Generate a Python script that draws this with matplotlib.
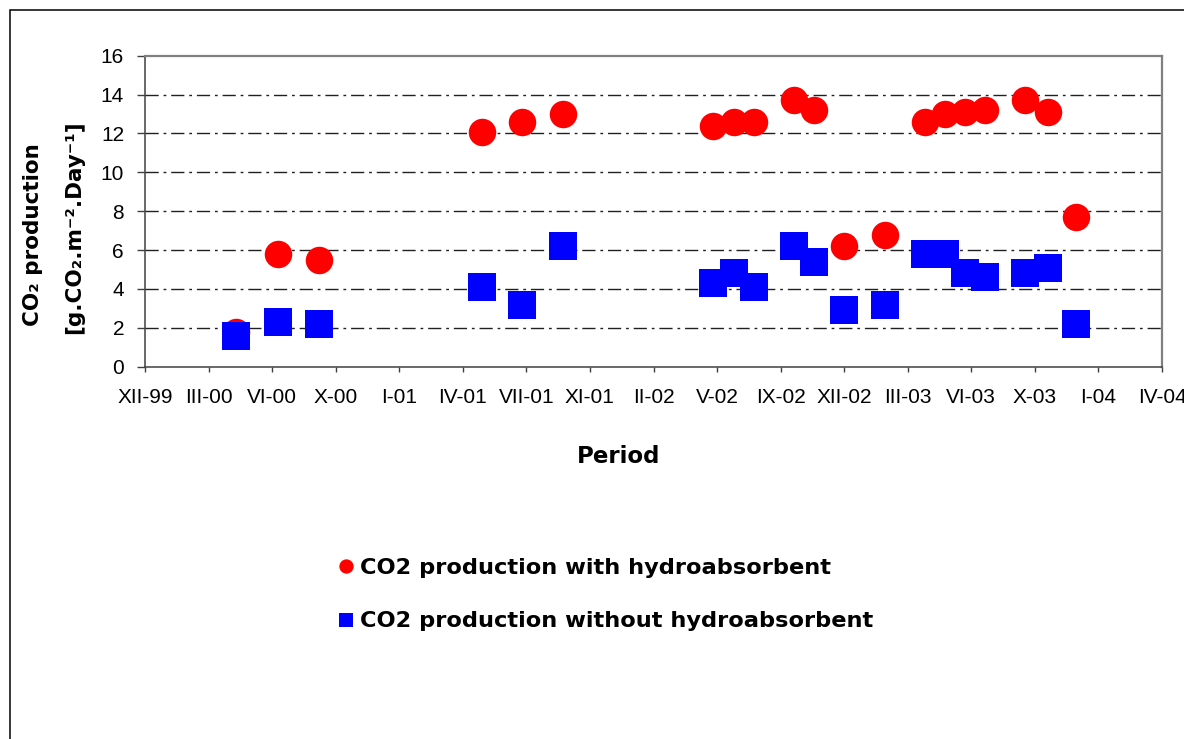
import matplotlib
matplotlib.use("Agg")
import matplotlib.pyplot as plt
from matplotlib.lines import Line2D
from matplotlib.patches import Rectangle
import pandas as pd
import numpy as np

# ---- data ----
dates = ["2000-04-27", "2000-07-03", "2000-09-05", "2001-05-19", "2001-07-21",
         "2001-09-23", "2002-05-18", "2002-06-19", "2002-07-21", "2002-09-22",
         "2002-10-24", "2002-12-10", "2003-02-12", "2003-04-16", "2003-05-18",
         "2003-06-18", "2003-07-20", "2003-09-21", "2003-10-26", "2003-12-10"]
with_hydro = [1.8, 5.8, 5.5, 12.1, 12.6, 13.0, 12.4, 12.6, 12.6, 13.7,
              13.2, 6.2, 6.8, 12.6, 13.0, 13.1, 13.2, 13.7, 13.1, 7.7]
without_hydro = [1.6, 2.3, 2.2, 4.1, 3.2, 6.2, 4.3, 4.8, 4.1, 6.2,
                 5.4, 2.9, 3.2, 5.8, 5.8, 4.8, 4.6, 4.8, 5.1, 2.2]
tick_labels = ["XII-99", "III-00", "VI-00", "X-00", "I-01", "IV-01", "VII-01",
               "XI-01", "II-02", "V-02", "IX-02", "XII-02", "III-03", "VI-03",
               "X-03", "I-04", "IV-04"]
axis_start = "1999-12-06"
tick_step_days = 100
series_labels = ["CO2 production with hydroabsorbent",
                 "CO2 production without hydroabsorbent"]

plt.rcParams['font.family'] = ['Liberation Sans', 'DejaVu Sans']

W, H = 1184, 739
fig = plt.figure(figsize=(W / 100, H / 100), dpi=100)

# outer chart border (extends beyond the canvas on right/bottom)
fig.patches.append(Rectangle((10 / W, -0.2), 1.3, 1 - 10.5 / H + 0.2,
                             transform=fig.transFigure, fill=False,
                             edgecolor='black', lw=1.1, zorder=0))

L, R, T, B = 145, 1162, 55.7, 366.7
ax = fig.add_axes([L / W, 1 - B / H, (R - L) / W, (B - T) / H])

x = pd.to_datetime(dates)
start = pd.Timestamp(axis_start)
ticks = [start + pd.Timedelta(days=tick_step_days * k) for k in range(len(tick_labels))]

ax.plot(x, with_hydro, 'o', color='#FF0000', markersize=19.8, markeredgewidth=0,
        zorder=3)
ax.plot(x, without_hydro, 's', color='#0000FF', markersize=19.8, markeredgewidth=0,
        zorder=4)

ax.set_xlim(ticks[0], ticks[-1])
ax.set_ylim(0, 16)
ax.set_xticks(ticks)
ax.set_xticklabels(tick_labels)
ax.set_yticks(np.arange(0, 17, 2))

ax.tick_params(axis='y', direction='out', length=5.8, width=1, color='#404040',
               labelsize=15, pad=9.3)
ax.tick_params(axis='x', direction='out', length=3.6, width=1, color='#404040',
               labelsize=15, pad=11.5)

for yv in range(2, 16, 2):
    ax.axhline(yv, color='#202020', lw=1, linestyle=(0, (9.5, 3.5, 2, 3.5)),
               zorder=1)

for s in ['left', 'bottom']:
    ax.spines[s].set_color('#404040')
    ax.spines[s].set_linewidth(1.1)
for s in ['top', 'right']:
    ax.spines[s].set_color('#808080')
    ax.spines[s].set_linewidth(1.6)

# axis titles
fig.text(33 / W, 1 - 235 / H, 'CO\u2082 production', rotation=90,
         ha='center', va='center', fontsize=15.5, fontweight='bold',
         family='DejaVu Sans')
fig.text(74 / W, 1 - 227.5 / H, '[g.CO\u2082.m\u207b\u00b2.Day\u207b\u00b9]',
         rotation=90, ha='center', va='center', fontsize=15.5, fontweight='bold',
         family='DejaVu Sans')
fig.text(619 / W, 1 - 456.7 / H, 'Period', ha='center', va='center',
         fontsize=16.5, fontweight='bold', family='DejaVu Sans')

handles = [Line2D([], [], marker='o', linestyle='none', color='#FF0000',
                  markersize=10.3, markeredgewidth=0),
           Line2D([], [], marker='s', linestyle='none', color='#0000FF',
                  markersize=10.3, markeredgewidth=0)]
leg = fig.legend(handles, series_labels, loc='center left',
                 bbox_to_anchor=(338 / W, 1 - 594.5 / H), frameon=False,
                 borderpad=0, borderaxespad=0, handlelength=0.7,
                 handletextpad=0.3, labelspacing=1.5,
                 prop={'weight': 'bold', 'size': 16.2, 'family': 'DejaVu Sans'})

fig.savefig('out.png', dpi=100)
